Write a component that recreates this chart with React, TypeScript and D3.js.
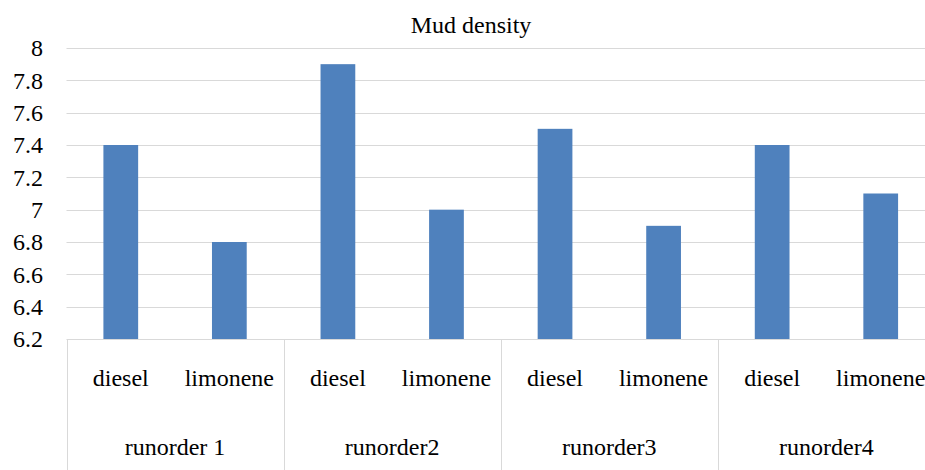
import React, { useEffect, useRef } from 'react';
import * as d3 from 'd3';

const runorders = ['runorder 1', 'runorder2', 'runorder3', 'runorder4'];
const fluids = ['diesel', 'limonene'];
const densityValues = [7.4, 6.8, 7.9, 7.0, 7.5, 6.9, 7.4, 7.1];
const yTicks = [6.2, 6.4, 6.6, 6.8, 7, 7.2, 7.4, 7.6, 7.8, 8];

const width = 925;
const height = 470;

export default function App() {
  const ref = useRef<SVGSVGElement>(null);

  useEffect(() => {
    const svg = d3.select(ref.current);
    svg.selectAll('*').remove();

    const left = 66.5;
    const right = 935;
    const top = 48;
    const bottom = 339;

    const cats = runorders.flatMap((r, i) => fluids.map((f) => `${i}-${f}`));
    const x = d3.scaleBand().domain(cats).range([left, right]).paddingInner(0).paddingOuter(0);
    const y = d3.scaleLinear().domain([6.2, 8]).range([bottom, top]);

    // gridlines
    svg.append('g')
      .selectAll('line')
      .data(yTicks)
      .enter()
      .append('line')
      .attr('x1', left)
      .attr('x2', right)
      .attr('y1', (d) => Math.round(y(d)) + 0.5)
      .attr('y2', (d) => Math.round(y(d)) + 0.5)
      .attr('stroke', '#d9d9d9')
      .attr('stroke-width', 1);

    // tick labels
    svg.append('g')
      .selectAll('text')
      .data(yTicks)
      .enter()
      .append('text')
      .attr('x', 43)
      .attr('y', (d) => y(d))
      .attr('dy', '0.35em')
      .attr('text-anchor', 'end')
      .text((d) => String(d));

    // bars
    const bw = x.bandwidth() * 0.32;
    svg.append('g')
      .selectAll('rect')
      .data(densityValues)
      .enter()
      .append('rect')
      .attr('x', (d, i) => (x(cats[i]) as number) + x.bandwidth() / 2 - bw / 2)
      .attr('y', (d) => y(d))
      .attr('width', bw)
      .attr('height', (d) => bottom - y(d))
      .attr('fill', '#4f81bd');

    // separators between groups
    const groupW = x.bandwidth() * fluids.length;
    const seps = d3.range(runorders.length + 1).map((i) => left + i * groupW);
    svg.append('g')
      .selectAll('line')
      .data(seps)
      .enter()
      .append('line')
      .attr('x1', (d) => Math.round(d) + 0.5)
      .attr('x2', (d) => Math.round(d) + 0.5)
      .attr('y1', bottom)
      .attr('y2', height)
      .attr('stroke', '#d9d9d9');

    // fluid labels
    svg.append('g')
      .selectAll('text')
      .data(cats)
      .enter()
      .append('text')
      .attr('x', (d) => (x(d) as number) + x.bandwidth() / 2)
      .attr('y', 386)
      .attr('text-anchor', 'middle')
      .text((d) => d.split('-')[1]);

    // runorder labels
    svg.append('g')
      .selectAll('text')
      .data(runorders)
      .enter()
      .append('text')
      .attr('x', (d, i) => left + i * groupW + groupW / 2)
      .attr('y', 455)
      .attr('text-anchor', 'middle')
      .text((d) => d);

    svg.append('text')
      .attr('x', 471)
      .attr('y', 33)
      .attr('text-anchor', 'middle')
      .text('Mud density');
  }, []);

  return (
    <svg
      ref={ref}
      width={width}
      height={height}
      style={{
        position: 'absolute',
        left: 0,
        top: 0,
        background: '#fff',
        fontFamily: "'Liberation Serif', Tinos, 'Times New Roman', serif",
        fontSize: 24,
        fill: '#000',
      }}
    />
  );
}
